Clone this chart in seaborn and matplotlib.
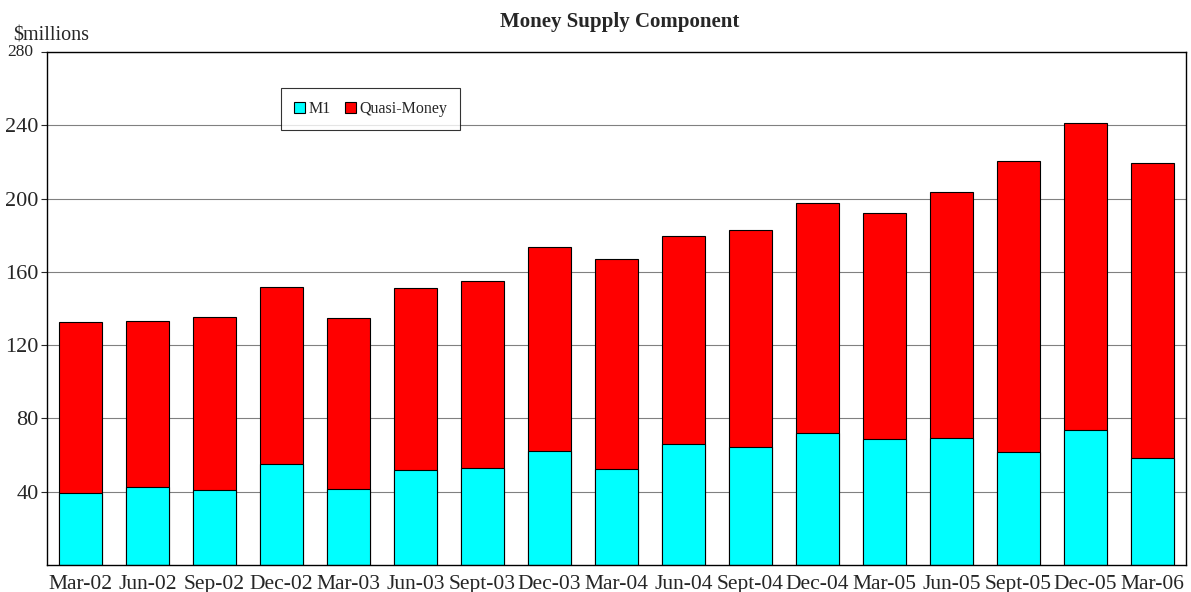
import pandas as pd
import matplotlib.pyplot as plt
import seaborn as sns

quarters = ["Mar-02", "Jun-02", "Sep-02", "Dec-02", "Mar-03", "Jun-03", "Sept-03",
            "Dec-03", "Mar-04", "Jun-04", "Sept-04", "Dec-04", "Mar-05", "Jun-05",
            "Sept-05", "Dec-05", "Mar-06"]
m1 = [39.2, 42.4, 40.8, 55.0, 41.4, 51.7, 52.8, 62.0, 52.2, 65.9, 64.2, 71.8,
      68.6, 69.1, 61.5, 73.5, 58.2]
total = [132.8, 133.3, 135.5, 151.8, 135.0, 151.3, 155.0, 173.6, 167.0, 179.6,
         182.9, 197.6, 192.1, 203.5, 220.4, 241.1, 219.3]
quasi = [t - m for t, m in zip(total, m1)]
y_ticks = [40, 80, 120, 160, 200, 240, 280]

sns.set_theme(style="white")
plt.rcParams["font.family"] = ["Liberation Serif", "DejaVu Serif"]

df = pd.DataFrame({"quarter": quarters, "M1": m1, "Quasi-Money": quasi, "total": total})

fig = plt.figure(figsize=(11.91, 5.92), dpi=100)
ax = fig.add_axes([0.0395, 0.0456, 0.9563, 0.8664])

# stacked look: totals in red, M1 drawn over them in cyan
sns.barplot(data=df, x="quarter", y="total", color="#ff0000", width=0.63,
            edgecolor="black", linewidth=0.8, saturation=1, ax=ax, label="Quasi-Money")
sns.barplot(data=df, x="quarter", y="M1", color="#00ffff", width=0.63,
            edgecolor="black", linewidth=0.8, saturation=1, ax=ax, label="M1")

ax.set_xlim(-0.5, len(quarters) - 0.5)
ax.set_ylim(0, 280)
ax.set_yticks(y_ticks)
ax.set_yticklabels([str(v) for v in y_ticks[:-1]] + [""], fontsize=16)
# top label is smaller and sits further left in the original
ax.text(-0.035, 1.0, str(y_ticks[-1]), transform=ax.transAxes, ha="left",
        va="center", fontsize=12.5)
ax.yaxis.grid(True, color="#808080", linewidth=0.8)
ax.set_axisbelow(True)
ax.tick_params(axis="y", left=True, length=4, width=0.8, pad=2)
ax.tick_params(axis="x", bottom=False, labelsize=15.5, pad=1)
ax.set_xlabel("")
ax.set_ylabel("")
for s in ax.spines.values():
    s.set_color("black")
    s.set_linewidth(1.0)

handles, labels = ax.get_legend_handles_labels()
order = [labels.index("M1"), labels.index("Quasi-Money")]
leg = ax.legend([handles[i] for i in order], [labels[i] for i in order],
                loc="upper left", bbox_to_anchor=(0.2054, 0.93), ncol=2,
                fontsize=11.5, frameon=True, fancybox=False, edgecolor="black",
                handlelength=0.7, handleheight=0.7, handletextpad=0.2,
                columnspacing=0.9, borderpad=0.8, borderaxespad=0)
leg.get_frame().set_linewidth(0.8)

fig.text(0.5206, 0.962, "Money Supply Component", ha="center", va="center",
         fontsize=15, fontweight="bold")
fig.text(0.011, 0.94, "$millions", ha="left", va="center", fontsize=14.5)

fig.savefig("out.png", dpi=100)
